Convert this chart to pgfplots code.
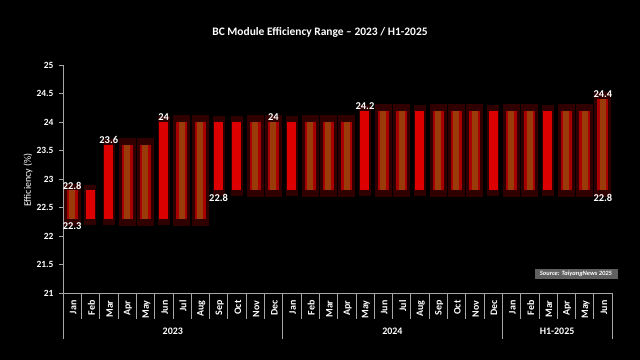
\documentclass[border=0pt]{standalone}
\usepackage{pgfplots}
\pgfplotsset{compat=1.18}
\usepackage{pgfplotstable}
\usepackage{fontspec}
\setmainfont{Carlito}

\definecolor{haloA}{HTML}{2E0000}
\definecolor{redA}{HTML}{DD0000}
\definecolor{haloB}{HTML}{300000}
\definecolor{redB}{HTML}{A80000}
\definecolor{stripeB}{HTML}{9A3C0A}
\definecolor{axgray}{HTML}{A6A6A6}

% months with plain red bars
\pgfplotstableread{
x lo hi
1 22.3 22.8
2 22.3 23.6
5 22.3 24
8 22.8 24
9 22.8 24
12 22.8 24
16 22.8 24.2
19 22.8 24.2
23 22.8 24.2
26 22.8 24.2
}\tabA
% months with orange-striped bars
\pgfplotstableread{
x lo hi
0 22.3 22.8
3 22.3 23.6
4 22.3 23.6
6 22.3 24
7 22.3 24
10 22.8 24
11 22.8 24
13 22.8 24
14 22.8 24
15 22.8 24
17 22.8 24.2
18 22.8 24.2
20 22.8 24.2
21 22.8 24.2
22 22.8 24.2
24 22.8 24.2
25 22.8 24.2
27 22.8 24.2
28 22.8 24.2
29 22.8 24.4
}\tabB

\pgfplotsset{
  rangebar/.style n args={3}{draw=none, mark=none, forget plot,
    error bars/.cd, y dir=both, y explicit, error mark=none,
    error bar style={draw=#1, line width=#2, line cap=butt}},
}

\begin{document}
\begin{tikzpicture}
\fill[black] (-63bp,-67bp) rectangle (577bp,293bp);
\useasboundingbox (-63bp,-67bp) rectangle (577bp,293bp);
\begin{axis}[
  at={(0,0)}, anchor=south west, scale only axis,
  width=549bp, height=228bp,
  xmin=-0.5, xmax=29.5, ymin=21, ymax=25,
  clip=false,
  axis x line*=bottom, axis y line*=left,
  axis line style={draw=axgray, line width=0.6pt},
  ytick={21,21.5,22,22.5,23,23.5,24,24.5,25},
  tick align=outside,
  ytick style={draw=axgray, line width=0.6pt},
  major tick length=4bp,
  yticklabel style={white, font=\bfseries\fontsize{9.5}{10}\selectfont, xshift=-2bp},
  /pgf/number format/assume math mode=true,
  xtick={0,...,29},
  xticklabels={Jan,Feb,Mar,Apr,May,Jun,Jul,Aug,Sep,Oct,Nov,Dec,Jan,Feb,Mar,Apr,May,Jun,Jul,Aug,Sep,Oct,Nov,Dec,Jan,Feb,Mar,Apr,May,Jun},
  xtick style={draw=none},
  xticklabel style={white, rotate=90, anchor=east, font=\bfseries\fontsize{10}{10}\selectfont, yshift=-1bp},
]
% halos
\addplot[rangebar={haloA}{12bp}{}] table[x=x, y expr={(\thisrow{lo}+\thisrow{hi})/2}, y error expr={(\thisrow{hi}-\thisrow{lo})/2+0.1}] \tabA;
\addplot[rangebar={haloB}{17bp}{}] table[x=x, y expr={(\thisrow{lo}+\thisrow{hi})/2}, y error expr={(\thisrow{hi}-\thisrow{lo})/2+0.12}] \tabB;
% main bars
\addplot[rangebar={redA}{9bp}{}] table[x=x, y expr={(\thisrow{lo}+\thisrow{hi})/2}, y error expr={(\thisrow{hi}-\thisrow{lo})/2}] \tabA;
\addplot[rangebar={redB}{11bp}{}] table[x=x, y expr={(\thisrow{lo}+\thisrow{hi})/2}, y error expr={(\thisrow{hi}-\thisrow{lo})/2}] \tabB;
\addplot[rangebar={stripeB}{6bp}{}] table[x=x, y expr={(\thisrow{lo}+\thisrow{hi})/2}, y error expr={(\thisrow{hi}-\thisrow{lo})/2}] \tabB;

% category separators
\pgfplotsinvokeforeach{0.5,1.5,...,28.5}{
  \draw[axgray, line width=0.6pt] (axis cs:#1,21) -- ([yshift=-26bp]axis cs:#1,21);
}
\pgfplotsinvokeforeach{-0.5,11.5,23.5,29.5}{
  \draw[axgray, line width=0.6pt] (axis cs:#1,21) -- ([yshift=-46bp]axis cs:#1,21);
}
\node[white, font=\bfseries\fontsize{10}{12}\selectfont] at (axis cs:5.5,21) [yshift=-38bp] {2023};
\node[white, font=\bfseries\fontsize{10}{12}\selectfont] at (axis cs:17.5,21) [yshift=-38bp] {2024};
\node[white, font=\bfseries\fontsize{10}{12}\selectfont] at (axis cs:26.5,21) [yshift=-38bp] {H1-2025};

% data labels
\tikzset{dl/.style={white, font=\bfseries\fontsize{10.5}{12}\selectfont, inner sep=1bp}}
\node[dl, anchor=south] at (axis cs:0,22.8) {22.8};
\node[dl, anchor=north, yshift=-3bp] at (axis cs:0,22.3) {22.3};
\node[dl, anchor=south] at (axis cs:2,23.6) {23.6};
\node[dl, anchor=south] at (axis cs:5,24) {24};
\node[dl, anchor=north, yshift=-3bp] at (axis cs:8,22.8) {22.8};
\node[dl, anchor=south] at (axis cs:11,24) {24};
\node[dl, anchor=south] at (axis cs:16,24.2) {24.2};
\node[dl, anchor=south] at (axis cs:29,24.4) {24.4};
\node[dl, anchor=north, yshift=-3bp] at (axis cs:29,22.8) {22.8};
\end{axis}
\node[white, font=\bfseries\fontsize{11.5}{13}\selectfont] at (257bp,261bp) {BC Module Efficiency Range – 2023 / H1-2025};
\node[white, rotate=90, font=\fontsize{10}{12}\selectfont] at (-35bp,113bp) {Efficiency (\%)};
\node[fill=gray!75!black, text=white, font=\bfseries\itshape\fontsize{6.5}{7}\selectfont, inner xsep=3bp, inner ysep=2bp, minimum width=83bp] at (513bp,19bp) {Source: TaiyangNews 2025};
\end{tikzpicture}
\end{document}
